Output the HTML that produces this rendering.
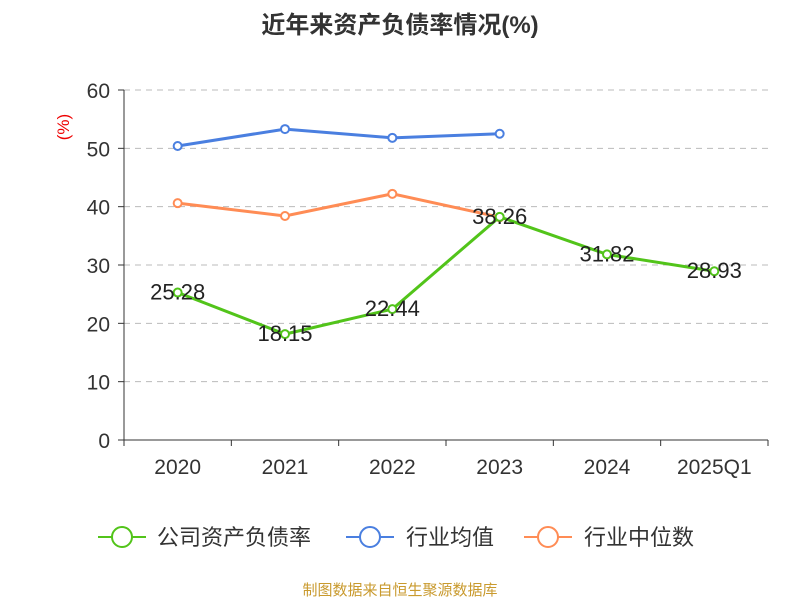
<!DOCTYPE html>
<html><head><meta charset="utf-8"><style>
body{margin:0;background:#fff;font-family:"Liberation Sans","Noto Sans CJK SC",sans-serif;}
</style></head><body>
<svg id="chart" width="800" height="600" xmlns="http://www.w3.org/2000/svg" style="font-family:'Liberation Sans','Noto Sans CJK SC',sans-serif">
<text x="400" y="33" text-anchor="middle" font-size="24" font-weight="bold" fill="#333">近年来资产负债率情况(%)</text>
<text x="69" y="127" text-anchor="middle" font-size="17" fill="#e00" transform="rotate(-90 69 127)">(%)</text>
<g id="grid"></g><g id="axes"></g><g id="series"></g>
<g>
<g><line x1="98" y1="537" x2="146" y2="537" stroke="#52c41a" stroke-width="2"/><circle cx="122" cy="537" r="10" fill="#fff" stroke="#52c41a" stroke-width="2"/><text x="157" y="545" font-size="22" fill="#333">公司资产负债率</text></g>
<g><line x1="346" y1="537" x2="394" y2="537" stroke="#4a7fe0" stroke-width="2"/><circle cx="370" cy="537" r="10" fill="#fff" stroke="#4a7fe0" stroke-width="2"/><text x="406" y="545" font-size="22" fill="#333">行业均值</text></g>
<g><line x1="524" y1="537" x2="572" y2="537" stroke="#ff8c55" stroke-width="2"/><circle cx="548" cy="537" r="10" fill="#fff" stroke="#ff8c55" stroke-width="2"/><text x="584" y="545" font-size="22" fill="#333">行业中位数</text></g>
</g>
<text x="400" y="595" text-anchor="middle" font-size="15" fill="#c99a2e">制图数据来自恒生聚源数据库</text>
</svg>
<script>
const categories=["2020","2021","2022","2023","2024","2025Q1"];
const companyVals=[25.28,18.15,22.44,38.26,31.82,28.93];
const avgVals=[50.4,53.3,51.8,52.5,null,null];
const medianVals=[40.6,38.4,42.2,38.2,null,null];
const yTicks=[0,10,20,30,40,50,60];
const NS="http://www.w3.org/2000/svg";
const x0=124,x1=768,yb=440,yt=90;
const band=(x1-x0)/categories.length;
const xs=i=>x0+band*(i+0.5);
const ys=v=>yb-(v/60)*(yb-yt);
function mk(tag,attrs,parent){const e=document.createElementNS(NS,tag);for(const k in attrs)e.setAttribute(k,attrs[k]);parent.appendChild(e);return e;}
const grid=document.getElementById('grid'),axes=document.getElementById('axes'),ser=document.getElementById('series');
yTicks.forEach(t=>{
 if(t>0){const l=mk('line',{x1:x0,x2:x1,y1:ys(t),y2:ys(t),stroke:'#bbb','stroke-dasharray':'6,5'},grid);
 
 }
 const tk=mk('line',{x1:x0-6,x2:x0,y1:ys(t),y2:ys(t),stroke:'#333'},axes);
 
 
 const tx=mk('text',{x:x0-14,y:ys(t)+8,'text-anchor':'end','font-size':21,fill:'#333'},axes);tx.textContent=t;
 
 
});
const ya=mk('line',{x1:x0,x2:x0,y1:yt,y2:yb,stroke:'#333'},axes);


const xa=mk('line',{x1:x0,x2:x1,y1:yb,y2:yb,stroke:'#333'},axes);


for(let i=0;i<=categories.length;i++){const tk=mk('line',{x1:x0+band*i,x2:x0+band*i,y1:yb,y2:yb+6,stroke:'#333'},axes);
 
 }
categories.forEach((c,i)=>{const t=mk('text',{x:xs(i),y:yb+34,'text-anchor':'middle','font-size':21,fill:'#333'},axes);t.textContent=c;
 
 });
function series(vals,color,name,labels){
 const g=mk('g',{},ser);
 
 
 const pts=vals.map((v,i)=>v==null?null:[xs(i),ys(v)]).filter(p=>p);
 mk('polyline',{points:pts.map(p=>p.join(',')).join(' '),fill:'none',stroke:color,'stroke-width':3},g);
 vals.forEach((v,i)=>{if(v==null)return;
  const c=mk('circle',{cx:xs(i),cy:ys(v),r:4,fill:'#fff',stroke:color,'stroke-width':2},g);
  
  
  if(labels){const t=mk('text',{x:xs(i),y:ys(v)+7,'text-anchor':'middle','font-size':22,fill:'#222'},g);t.textContent=v.toFixed(2);
   
   }
 });
}
series(avgVals,'#4a7fe0','industry-avg-line',false);
series(medianVals,'#ff8c55','industry-median-line',false);
series(companyVals,'#52c41a','company-line',true);
</script>
</body></html>
